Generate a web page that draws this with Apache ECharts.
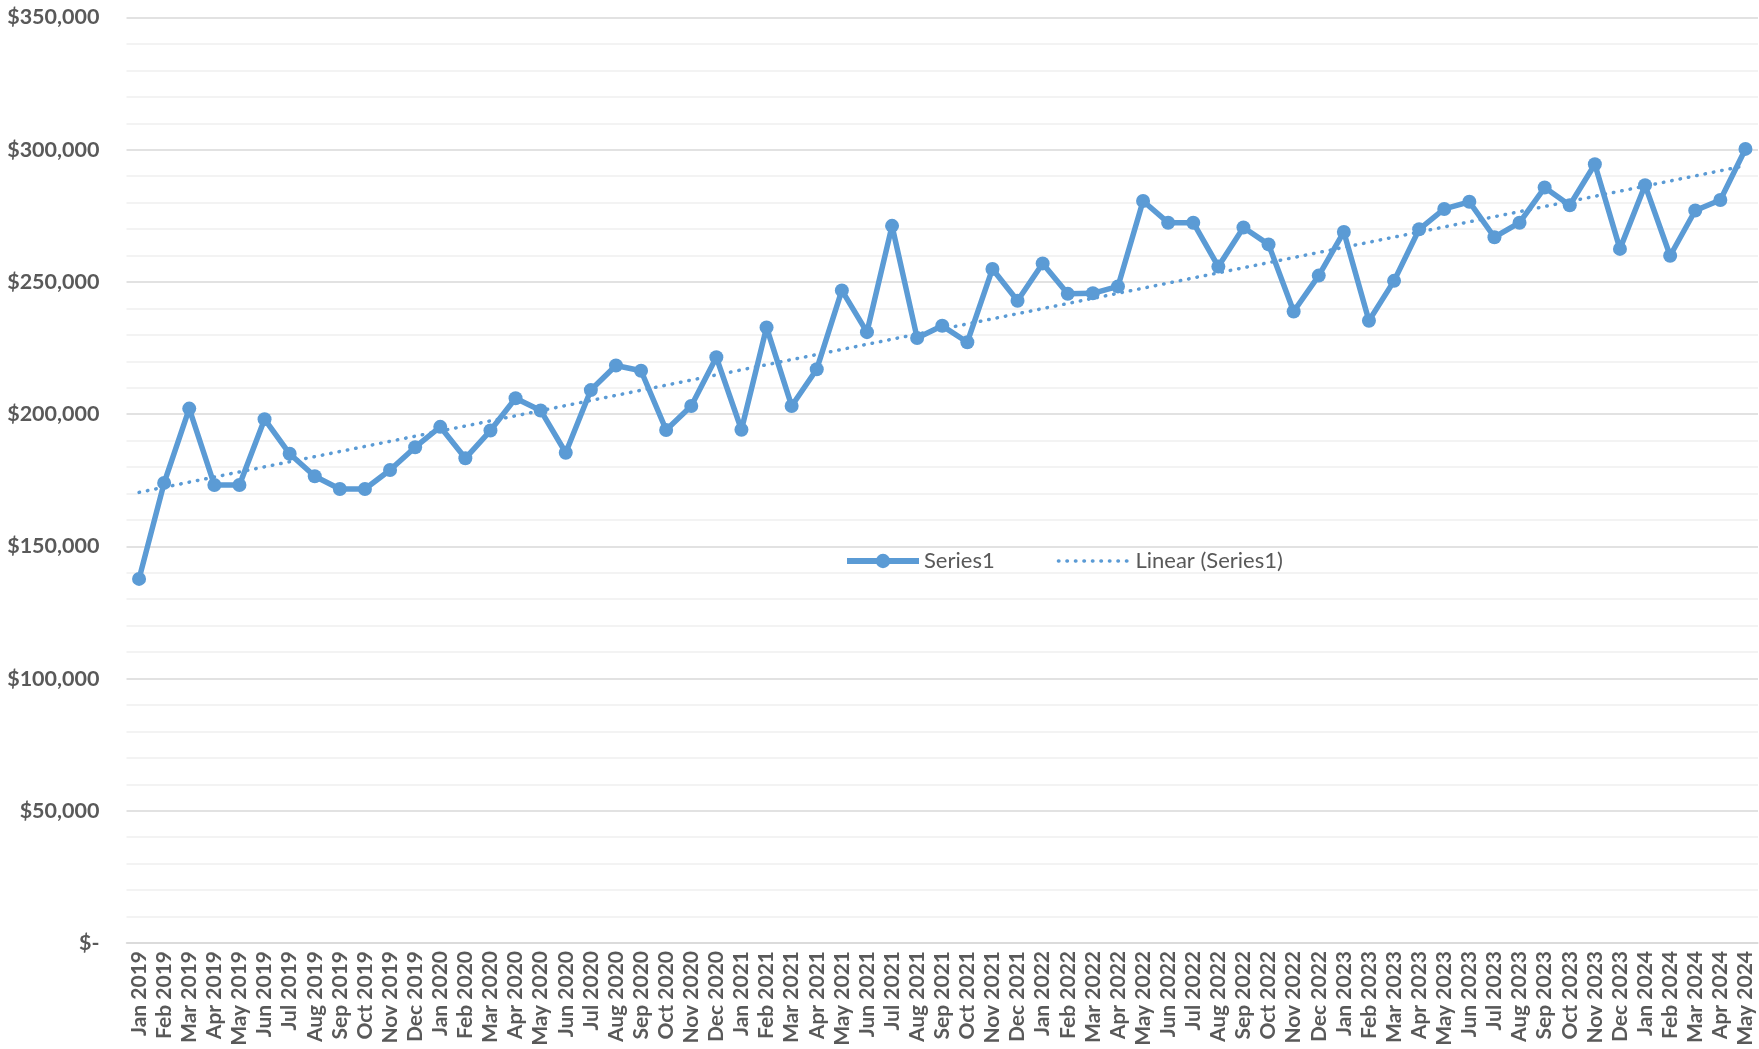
<!DOCTYPE html>
<html>
<head>
<meta charset="utf-8">
<script src="https://cdn.jsdelivr.net/npm/echarts@6/dist/echarts.min.js"></script>
<style>
html,body{margin:0;padding:0;background:#fff;}
#chart{width:1759px;height:1049px;}
</style>
</head>
<body>
<div id="chart"></div>
<script>
var categories = [
 'Jan 2019','Feb 2019','Mar 2019','Apr 2019','May 2019','Jun 2019','Jul 2019','Aug 2019','Sep 2019','Oct 2019','Nov 2019','Dec 2019',
 'Jan 2020','Feb 2020','Mar 2020','Apr 2020','May 2020','Jun 2020','Jul 2020','Aug 2020','Sep 2020','Oct 2020','Nov 2020','Dec 2020',
 'Jan 2021','Feb 2021','Mar 2021','Apr 2021','May 2021','Jun 2021','Jul 2021','Aug 2021','Sep 2021','Oct 2021','Nov 2021','Dec 2021',
 'Jan 2022','Feb 2022','Mar 2022','Apr 2022','May 2022','Jun 2022','Jul 2022','Aug 2022','Sep 2022','Oct 2022','Nov 2022','Dec 2022',
 'Jan 2023','Feb 2023','Mar 2023','Apr 2023','May 2023','Jun 2023','Jul 2023','Aug 2023','Sep 2023','Oct 2023','Nov 2023','Dec 2023',
 'Jan 2024','Feb 2024','Mar 2024','Apr 2024','May 2024'
];
var series1 = [
 137700,174000,202100,173200,173200,198100,185000,176500,171700,171700,178900,187500,
 195200,183300,193800,206000,201400,185400,209100,218400,216400,194000,203100,221500,
 194100,232800,203100,217000,246800,231000,271200,228800,233400,227200,254900,242900,
 257000,245500,245700,248300,280600,272400,272400,255800,270600,264200,238800,252400,
 268900,235300,250400,269900,277600,280300,266900,272400,285700,279000,294500,262500,
 286600,259900,277000,281000,300300
];
var yTicks = [0,50000,100000,150000,200000,250000,300000,350000];

// Linear trendline (least squares over category index), like Excel's "Linear" trendline
var n = series1.length, sx = 0, sy = 0, sxy = 0, sxx = 0;
for (var i = 0; i < n; i++) { sx += i; sy += series1[i]; sxy += i * series1[i]; sxx += i * i; }
var slope = (n * sxy - sx * sy) / (n * sxx - sx * sx);
var intercept = (sy - slope * sx) / n;
var trend = series1.map(function (_, i) { return Math.round(intercept + slope * i); });

var blue = '#5B9BD5';
var grey = '#595959';
var dotted = [0.5, 8];

function fmt(v) {
  if (v === 0) return '$-';
  return '$' + v.toString().replace(/\B(?=(\d{3})+(?!\d))/g, ',');
}

var chart = echarts.init(document.getElementById('chart'), null, {renderer: 'canvas'});
chart.setOption({
  animation: false,
  backgroundColor: '#ffffff',
  grid: {left: 126.5, right: 1, top: 17.5, bottom: 106, containLabel: false},
  legend: {
    left: 839, top: 545,
    itemWidth: 72, itemHeight: 18, itemGap: 62,
    textStyle: {fontFamily: 'Lato', fontSize: 22, color: grey},
    data: [
      {name: 'Series1', itemStyle: {color: blue}, lineStyle: {color: blue, width: 6}},
      {name: 'Linear (Series1)', itemStyle: {color: blue, opacity: 0},
       lineStyle: {color: blue, width: 3.5, type: dotted, cap: 'round', opacity: 1}}
    ]
  },
  xAxis: {
    type: 'category',
    data: categories,
    boundaryGap: true,
    axisLine: {show: true, lineStyle: {color: '#D9D9D9', width: 1.5}},
    axisTick: {show: false},
    axisLabel: {
      interval: 0, rotate: 90, margin: 8,
      fontFamily: 'Lato', fontWeight: 'bold', fontSize: 21, color: grey
    },
    splitLine: {show: false}
  },
  yAxis: {
    type: 'value',
    min: yTicks[0], max: yTicks[yTicks.length - 1], interval: 50000,
    axisLine: {show: false},
    axisTick: {show: false},
    axisLabel: {
      margin: 27, fontFamily: 'Lato', fontWeight: 'bold', fontSize: 21.5, color: grey,
      formatter: fmt
    },
    splitLine: {show: true, lineStyle: {color: '#D9D9D9', width: 1.5}},
    minorTick: {show: false, splitNumber: 5},
    minorSplitLine: {show: true, lineStyle: {color: '#F0F0F0', width: 1.5}}
  },
  series: [
    {
      name: 'Linear (Series1)',
      type: 'line',
      data: trend,
      showSymbol: false,
      symbol: 'none',
      z: 1,
      lineStyle: {color: blue, width: 3.5, type: dotted, cap: 'round'},
      itemStyle: {color: blue}
    },
    {
      name: 'Series1',
      type: 'line',
      data: series1,
      symbol: 'circle',
      symbolSize: 14,
      z: 2,
      lineStyle: {color: blue, width: 5.5},
      itemStyle: {color: blue}
    }
  ]
});
</script>
</body>
</html>
